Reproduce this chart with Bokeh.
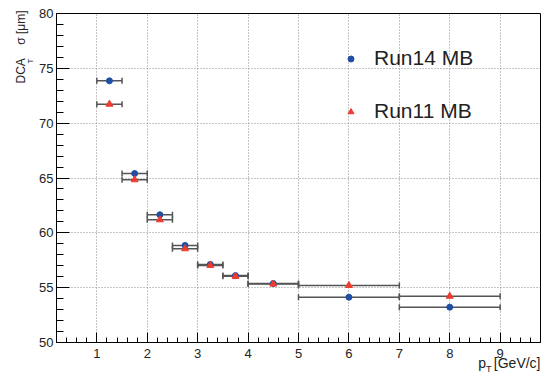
import numpy as np
from bokeh.plotting import figure
from bokeh.models import (ColumnDataSource, Whisker, TeeHead, Legend, LegendItem,
                          Title, FixedTicker, Range1d)
from bokeh.embed import file_html
from bokeh.resources import INLINE

# ---- data ----
pt_lo = [1.0, 1.5, 2.0, 2.5, 3.0, 3.5, 4.0, 5.0, 7.0]
pt_hi = [1.5, 2.0, 2.5, 3.0, 3.5, 4.0, 5.0, 7.0, 9.0]
pt_center = [1.25, 1.75, 2.25, 2.75, 3.25, 3.75, 4.5, 6.0, 8.0]
run14_sigma = [73.86, 65.41, 61.65, 58.85, 57.12, 56.10, 55.38, 54.13, 53.22]
run11_sigma = [71.73, 64.84, 61.19, 58.55, 57.03, 56.03, 55.33, 55.20, 54.22]
x_ticks = [1, 2, 3, 4, 5, 6, 7, 8, 9]
y_ticks = [50, 55, 60, 65, 70, 75, 80]

FONT = "Liberation Sans"
BLUE = "#1f4ea3"
RED = "#ee3b30"
BAR = "#555555"
TXT = "#222222"
NB = "\u00a0"

p = figure(width=551, height=376, x_range=Range1d(0.2, 9.8), y_range=Range1d(50, 80),
           output_backend="svg", toolbar_location=None,
           min_border_left=56, min_border_right=11, min_border_top=13, min_border_bottom=34)
p.background_fill_color = "white"
p.border_fill_color = "white"
p.outline_line_color = "black"
p.outline_line_width = 1

x_minor = [round(v, 2) for v in np.arange(0.2, 9.81, 0.2)]
y_minor = list(range(50, 81))
p.xaxis.ticker = FixedTicker(ticks=x_ticks, minor_ticks=x_minor)
p.yaxis.ticker = FixedTicker(ticks=y_ticks, minor_ticks=y_minor)

for ax, maj, mnr, so in ((p.xaxis, 10, 5, 6), (p.yaxis, 13, 7, 3)):
    ax.major_tick_in = maj
    ax.major_tick_out = 0
    ax.minor_tick_in = mnr
    ax.minor_tick_out = 0
    ax.major_tick_line_color = "black"
    ax.minor_tick_line_color = "black"
    ax.axis_line_color = "black"
    ax.major_label_text_font = FONT
    ax.major_label_text_font_size = "13px"
    ax.major_label_text_color = TXT
    ax.major_label_standoff = so
    ax.axis_label = None

for g in (p.xgrid, p.ygrid):
    g.grid_line_color = "#8c8c8c"
    g.grid_line_dash = "1 2"
    g.grid_line_width = 1

src14 = ColumnDataSource(dict(x=pt_center, y=run14_sigma, lo=pt_lo, hi=pt_hi))
src11 = ColumnDataSource(dict(x=pt_center, y=run11_sigma, lo=pt_lo, hi=pt_hi))

for src in (src14, src11):
    w = Whisker(source=src, base="y", lower="lo", upper="hi", dimension="width",
                line_color=BAR, line_width=1.5, level="underlay",
                upper_head=TeeHead(size=6, line_color=BAR, line_width=1.5),
                lower_head=TeeHead(size=6, line_color=BAR, line_width=1.5))
    p.add_layout(w)

r14 = p.scatter("x", "y", source=src14, marker="circle", size=6,
                fill_color=BLUE, line_color=BLUE)
r11 = p.scatter("x", "y", source=src11, marker="triangle", size=7,
                fill_color=RED, line_color=RED)

legend = Legend(items=[LegendItem(label="Run14 MB", renderers=[r14]),
                       LegendItem(label="Run11 MB", renderers=[r11])],
                location=(287, 219), padding=0, margin=0, spacing=29,
                glyph_width=15, glyph_height=15, label_standoff=16,
                label_text_font=FONT, label_text_font_size="21px",
                label_text_color=TXT, label_height=20,
                border_line_alpha=0, background_fill_alpha=0)
p.add_layout(legend)

# ---- axis titles as side-panel Titles (text with subscript T) ----
t_kw = dict(text_font=FONT, text_color=TXT, text_font_style="normal")
# y: subscript T (inner panel), then main text (outer panel)
p.add_layout(Title(text="T", text_font_size="8px", align="right", offset=45,
                   vertical_align="middle", standoff=2, **t_kw), "left")
p.add_layout(Title(text="DCA" + NB * 4 + "σ [μm]", text_font_size="12px", align="right",
                   offset=-3, vertical_align="top", standoff=-12.7, **t_kw), "left")
# x: main text (inner panel), then subscript T (outer panel)
p.add_layout(Title(text="p" + NB * 2 + "[GeV/c]", text_font_size="14px", align="right",
                   offset=0, vertical_align="middle", standoff=-14, **t_kw), "below")
p.add_layout(Title(text="T", text_font_size="9px", align="right", offset=49,
                   vertical_align="middle", standoff=-3.4, **t_kw), "below")

open("out.html", "w").write(file_html(p, INLINE))
